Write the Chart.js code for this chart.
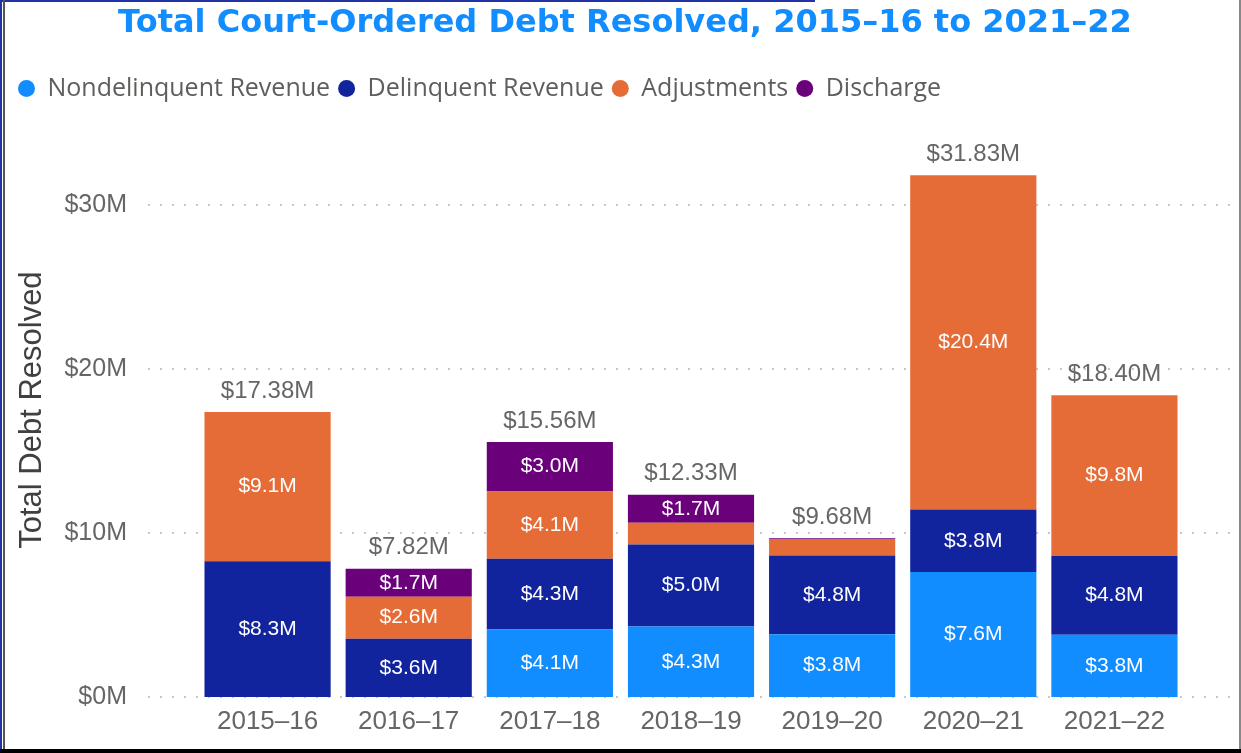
<!DOCTYPE html>
<html>
<head>
<meta charset="utf-8">
<script src="https://cdn.jsdelivr.net/npm/chart.js@4.4.1/dist/chart.umd.min.js"></script>
<style>
  body { margin: 0; background: #fff; }
  #wrap { position: relative; width: 1241px; height: 753px; overflow: hidden; }
  #chart { position: absolute; left: 0; top: 0; }
  .edge { position: absolute; }
</style>
</head>
<body>
<div id="wrap">
  <canvas id="chart" width="1241" height="753"></canvas>
  <div class="edge" style="left:0;top:0;width:815px;height:2px;background:#2233a8"></div>
  <div class="edge" style="left:0;top:0;width:2px;height:753px;background:#2233a8"></div>
  <div class="edge" style="left:3px;top:0;width:2px;height:753px;background:#555"></div>
  <div class="edge" style="left:1239px;top:0;width:2px;height:753px;background:#888"></div>
  <div class="edge" style="left:0;top:749px;width:1241px;height:4px;background:#000"></div>
</div>
<script>
const years = ['2015–16', '2016–17', '2017–18', '2018–19', '2019–20', '2020–21', '2021–22'];

// $ millions
const nondelinquent = [0, 0, 4.12, 4.30, 3.83, 7.63, 3.80];
const delinquent = [8.28, 3.56, 4.32, 5.00, 4.80, 3.80, 4.80];
const adjustments = [9.10, 2.56, 4.10, 1.33, 1.00, 20.40, 9.80];
const discharge = [0, 1.70, 3.02, 1.70, 0.05, 0, 0];

const yTicks = [0, 10, 20, 30];

const colours = ['#118DFF', '#12239E', '#E66C37', '#6B007B'];

const totals = years.map((y, i) => nondelinquent[i] + delinquent[i] + adjustments[i] + discharge[i]);

const titleText = 'Total Court-Ordered Debt Resolved, 2015–16 to 2021–22';

// dotted gridlines, wider than the plot area like the original
const dottedGrid = {
    id: 'dottedGrid',
    beforeDatasetsDraw(chart) {
        const ctx = chart.ctx;
        const yScale = chart.scales.y;
        ctx.save();
        ctx.fillStyle = '#c8c8c8';
        yScale.ticks.forEach(t => {
            const y = Math.round(yScale.getPixelForValue(t.value));
            for (let x = 148; x < 1232; x += 12) {
                ctx.fillRect(x, y - 1, 2, 2);
            }
        });
        ctx.restore();
    }
};

const barLabels = {
    id: 'barLabels',
    afterDatasetsDraw(chart) {
        const ctx = chart.ctx;
        const yScale = chart.scales.y;
        ctx.save();
        ctx.textAlign = 'center';
        ctx.textBaseline = 'middle';

        // title, centred on the whole picture
        ctx.font = 'bold 32px "DejaVu Sans", sans-serif';
        ctx.fillStyle = '#118DFF';
        ctx.fillText(titleText, 625, 24);

        ctx.font = '21px "Liberation Sans", Arial, sans-serif';
        ctx.fillStyle = '#ffffff';
        chart.data.datasets.forEach((ds, di) => {
            const meta = chart.getDatasetMeta(di);
            meta.data.forEach((bar, i) => {
                const h = Math.abs(bar.base - bar.y);
                if (h < 25) return;
                ctx.fillText('$' + ds.data[i].toFixed(1) + 'M', bar.x, (bar.y + bar.base) / 2);
            });
        });

        ctx.font = '24px "Liberation Sans", Arial, sans-serif';
        ctx.fillStyle = '#666666';
        const xMeta = chart.getDatasetMeta(0);
        totals.forEach((t, i) => {
            const x = xMeta.data[i].x;
            const y = yScale.getPixelForValue(t);
            ctx.fillText('$' + t.toFixed(2) + 'M', x, y - 21);
        });
        ctx.restore();
    }
};

new Chart(document.getElementById('chart'), {
    type: 'bar',
    data: {
        labels: years,
        datasets: [
            { label: 'Nondelinquent Revenue', data: nondelinquent, backgroundColor: colours[0] },
            { label: 'Delinquent Revenue', data: delinquent, backgroundColor: colours[1] },
            { label: 'Adjustments', data: adjustments, backgroundColor: colours[2] },
            { label: 'Discharge', data: discharge, backgroundColor: colours[3] }
        ]
    },
    options: {
        responsive: false,
        animation: false,
        layout: { padding: { left: 10, right: 56, top: 68, bottom: 0 } },
        datasets: {
            bar: { categoryPercentage: 1, barPercentage: 0.894, borderWidth: 0 }
        },
        scales: {
            x: {
                stacked: true,
                grid: { display: false, drawTicks: false },
                border: { display: false },
                ticks: {
                    color: '#666666',
                    font: { family: '"Liberation Sans", Arial, sans-serif', size: 26 },
                    padding: 9,
                    maxRotation: 0
                },
                afterFit(scale) { scale.height = 56; }
            },
            y: {
                stacked: true,
                min: 0,
                max: 35,
                // tick marks are not drawn, their length only pushes the labels left
                grid: { display: false, drawTicks: true, tickLength: 62 },
                border: { display: false },
                afterBuildTicks(scale) {
                    scale.ticks = yTicks.map(v => ({ value: v }));
                },
                ticks: {
                    color: '#666666',
                    font: { family: '"Liberation Sans", Arial, sans-serif', size: 25 },
                    padding: 8,
                    callback: v => '$' + v + 'M'
                },
                title: {
                    display: true,
                    text: 'Total Debt Resolved',
                    color: '#404040',
                    font: { family: '"Liberation Sans", Arial, sans-serif', size: 31 },
                    padding: { top: 4, bottom: 0 }
                },
                afterFit(scale) { scale.width = 187; }
            }
        },
        plugins: {
            title: { display: false },
            subtitle: {
                display: true,
                text: '',
                weight: 500,
                font: { size: 1 },
                padding: { top: 11, bottom: 0 }
            },
            legend: {
                display: true,
                align: 'start',
                labels: {
                    usePointStyle: true,
                    pointStyle: 'circle',
                    boxHeight: 12,
                    pointStyleWidth: 17,
                    padding: 8,
                    color: '#605E5C',
                    font: { family: '"Open Sans", sans-serif', size: 25 }
                }
            },
            tooltip: { enabled: false }
        }
    },
    plugins: [dottedGrid, barLabels]
});
</script>
</body>
</html>
